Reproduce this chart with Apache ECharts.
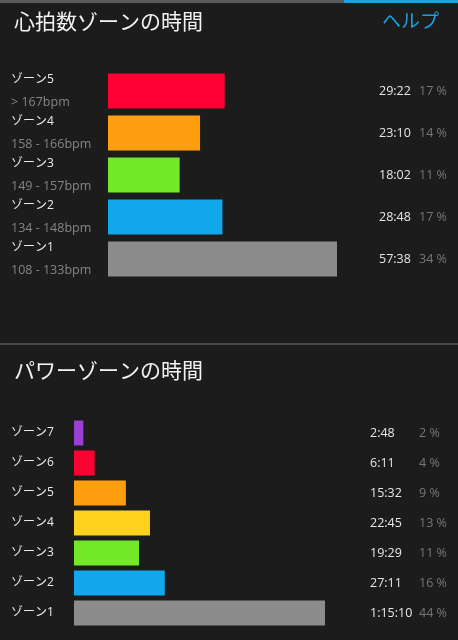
<!DOCTYPE html>
<html><head><meta charset="utf-8">
<script src="https://cdn.jsdelivr.net/npm/echarts@6/dist/echarts.min.js"></script>
<style>html,body{margin:0;padding:0;background:#1c1c1c;}#c{width:458px;height:640px;}</style>
</head><body><div id="c"></div>
<script>
// Heart rate zones (top to bottom)
const hrZones = ['ゾーン5', 'ゾーン4', 'ゾーン3', 'ゾーン2', 'ゾーン1'];
const hrRanges = ['> 167bpm', '158 - 166bpm', '149 - 157bpm', '134 - 148bpm', '108 - 133bpm'];
const hrSeconds = [1762, 1390, 1082, 1728, 3458];
const hrTimes = ['29:22', '23:10', '18:02', '28:48', '57:38'];
const hrPct = ['17 %', '14 %', '11 %', '17 %', '34 %'];
const hrColors = ['#ff0033', '#ff9f10', '#72e826', '#10a8ea', '#8c8c8c'];

// Power zones (top to bottom)
const pwZones = ['ゾーン7', 'ゾーン6', 'ゾーン5', 'ゾーン4', 'ゾーン3', 'ゾーン2', 'ゾーン1'];
const pwSeconds = [168, 371, 932, 1365, 1169, 1631, 4510];
const pwTimes = ['2:48', '6:11', '15:32', '22:45', '19:29', '27:11', '1:15:10'];
const pwPct = ['2 %', '4 %', '9 %', '13 %', '11 %', '16 %', '44 %'];
const pwColors = ['#9b3fd2', '#ff0033', '#ff9f10', '#fcd21f', '#72e826', '#10a8ea', '#8c8c8c'];

const FONT = '"Open Sans", "Noto Sans CJK JP", sans-serif';
const CJK = '"Noto Sans CJK JP", sans-serif';
const chart = echarts.init(document.getElementById('c'));

chart.setOption({
  backgroundColor: '#1c1c1c',
  animation: false,
  textStyle: { fontFamily: FONT },
  graphic: [
    { type: 'rect', shape: { x: 0, y: 0, width: 344, height: 3 }, style: { fill: '#5a5a5a' } },
    { type: 'rect', shape: { x: 344, y: 0, width: 114, height: 3 }, style: { fill: '#1ba1e2' } },
    { type: 'rect', shape: { x: 0, y: 343, width: 458, height: 2 }, style: { fill: '#4a4a4a' } },
    { type: 'text', left: 14, top: 11, style: { text: '心拍数ゾーンの時間', fill: '#f2f2f2', font: '21px ' + CJK } },
    { type: 'text', left: 382, top: 11, style: { text: 'ヘルプ', fill: '#1ba1e2', font: '19px ' + CJK } },
    { type: 'text', left: 14, top: 360, style: { text: 'パワーゾーンの時間', fill: '#f2f2f2', font: '21px ' + CJK } }
  ],
  grid: [
    { left: 108, right: 121, top: 70, height: 210 },
    { left: 74, right: 133, top: 418, height: 210 }
  ],
  xAxis: [
    { gridIndex: 0, type: 'value', min: 0, max: 'dataMax', show: false },
    { gridIndex: 1, type: 'value', min: 0, max: 'dataMax', show: false }
  ],
  yAxis: [
    {
      gridIndex: 0, type: 'category', inverse: true, data: hrZones,
      axisLine: { show: false }, axisTick: { show: false }, splitLine: { show: false },
      axisLabel: {
        align: 'left', margin: 97,
        formatter: (v, i) => '{n|' + v + '}\n{r|' + hrRanges[i] + '}',
        rich: {
          n: { color: '#ececec', fontSize: 12, lineHeight: 22, fontFamily: FONT },
          r: { color: '#858585', fontSize: 12.5, lineHeight: 22, fontFamily: FONT }
        }
      }
    },
    {
      gridIndex: 0, type: 'category', inverse: true, position: 'right', data: hrZones,
      axisLine: { show: false }, axisTick: { show: false }, splitLine: { show: false },
      axisLabel: {
        align: 'left', margin: 42,
        formatter: (v, i) => '{t|' + hrTimes[i] + '}{p|' + hrPct[i] + '}',
        rich: {
          t: { color: '#e6e6e6', fontSize: 12.5, width: 40, fontFamily: FONT },
          p: { color: '#777777', fontSize: 12.5, fontFamily: FONT }
        }
      }
    },
    {
      gridIndex: 1, type: 'category', inverse: true, data: pwZones,
      axisLine: { show: false }, axisTick: { show: false }, splitLine: { show: false },
      axisLabel: {
        align: 'left', margin: 63, color: '#ececec', fontSize: 12, fontFamily: FONT
      }
    },
    {
      gridIndex: 1, type: 'category', inverse: true, position: 'right', data: pwZones,
      axisLine: { show: false }, axisTick: { show: false }, splitLine: { show: false },
      axisLabel: {
        align: 'left', margin: 45,
        formatter: (v, i) => '{t|' + pwTimes[i] + '}{p|' + pwPct[i] + '}',
        rich: {
          t: { color: '#e6e6e6', fontSize: 12.5, width: 49, fontFamily: FONT },
          p: { color: '#777777', fontSize: 12.5, fontFamily: FONT }
        }
      }
    }
  ],
  series: [
    {
      type: 'bar', xAxisIndex: 0, yAxisIndex: 0, barWidth: 35,
      data: hrSeconds.map((v, i) => ({ value: v, itemStyle: { color: hrColors[i] } }))
    },
    {
      type: 'bar', xAxisIndex: 1, yAxisIndex: 2, barWidth: 25,
      data: pwSeconds.map((v, i) => ({ value: v, itemStyle: { color: pwColors[i] } }))
    }
  ]
});
</script>
</body></html>
